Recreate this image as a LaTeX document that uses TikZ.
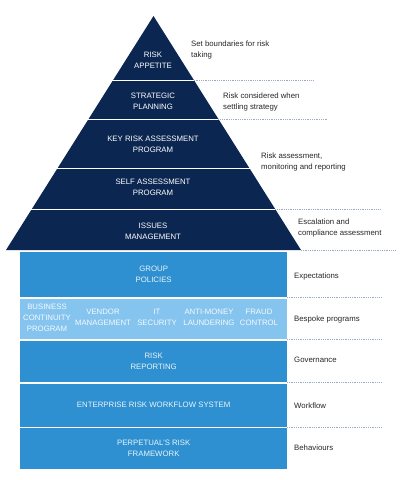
\documentclass[tikz,border=0pt]{standalone}
\usepackage{fontspec}
\setmainfont{Liberation Sans}
\definecolor{navy}{HTML}{0B2650}
\definecolor{midblue}{HTML}{2E90D0}
\definecolor{lightblue}{HTML}{85C4EE}
\definecolor{dotgray}{HTML}{9AAAC0}
\begin{document}
\begin{tikzpicture}[x=1pt,y=-1pt,
  txt/.style={font=\fontsize{7.8}{11}\selectfont,inner sep=0pt},
  inlbl/.style={txt,text=white,align=center},
  rlbl/.style={txt,text=black!85,align=left,anchor=west},
  blk/.style={inlbl,fill=midblue,text=white!90!midblue,minimum width=267pt,anchor=north west},
  sep/.style={dotgray,densely dotted,line width=.8pt}]
 \useasboundingbox (0,0) rectangle (402,480);
 % pyramid
 \fill[navy] (153.5,16)--(6,250)--(301,250)--cycle;
 \foreach \y in {80,119,168,209} \draw[white,line width=1pt] (0,\y)--(320,\y);
 \node[inlbl] (appetite) at (153,60.5) {RISK\\APPETITE};
 \node[inlbl] (planning) at (153,101.5) {STRATEGIC\\PLANNING};
 \node[inlbl] (kra) at (153,144.5) {KEY RISK ASSESSMENT\\PROGRAM};
 \node[inlbl] (sap) at (153,187.5) {SELF ASSESSMENT\\PROGRAM};
 \node[inlbl] (issues) at (153,231.5) {ISSUES\\MANAGEMENT};
 \draw[sep] (193.8,80)--(313,80);
 \draw[sep] (218.4,119)--(328,119);
 \draw[sep] (275.1,209)--(381,209);
 \draw[sep] (301,250)--(395,250);
 \node[rlbl] (boundaries) at (191,49.5) {Set boundaries for risk\\taking};
 \node[rlbl] (strategy) at (223,101.5) {Risk considered when\\settling strategy};
 \node[rlbl] (monitoring) at (261,162) {Risk assessment,\\monitoring and reporting};
 \node[rlbl] (escalation) at (298,227.5) {Escalation and\\compliance assessment};
 % foundation blocks
 \node[blk,minimum height=45pt] (policies) at (20,252) {GROUP\\POLICIES};
 \fill[lightblue] (20,298.5) rectangle (287,339);
 \node[blk,minimum height=41.5pt] (reporting) at (20,340.5) {RISK\\REPORTING};
 \node[blk,minimum height=43pt] (workflow) at (20,383.5) {ENTERPRISE RISK WORKFLOW SYSTEM};
 \node[blk,minimum height=41pt] (framework) at (20,428) {PERPETUAL'S RISK\\FRAMEWORK};
 \node[inlbl,text=white!92!lightblue] (bcp) at (47,318) {BUSINESS\\CONTINUITY\\PROGRAM};
 \node[inlbl,text=white!92!lightblue] (vendor) at (103,317) {VENDOR\\MANAGEMENT};
 \node[inlbl,text=white!92!lightblue] (itsec) at (157,317) {IT\\SECURITY};
 \node[inlbl,text=white!92!lightblue] (aml) at (209,317) {ANTI-MONEY\\LAUNDERING};
 \node[inlbl,text=white!92!lightblue] (fraud) at (259,317) {FRAUD\\CONTROL};
 \foreach \y in {297.5,339.5,382.5,427} \draw[sep] (287,\y)--(381,\y);
 \node[rlbl] (expect) at (294,276) {Expectations};
 \node[rlbl] (bespoke) at (294,319) {Bespoke programs};
 \node[rlbl] (govern) at (294,360) {Governance};
 \node[rlbl] (wflow) at (294,406) {Workflow};
 \node[rlbl] (behave) at (294,448) {Behaviours};
\end{tikzpicture}
\end{document}
